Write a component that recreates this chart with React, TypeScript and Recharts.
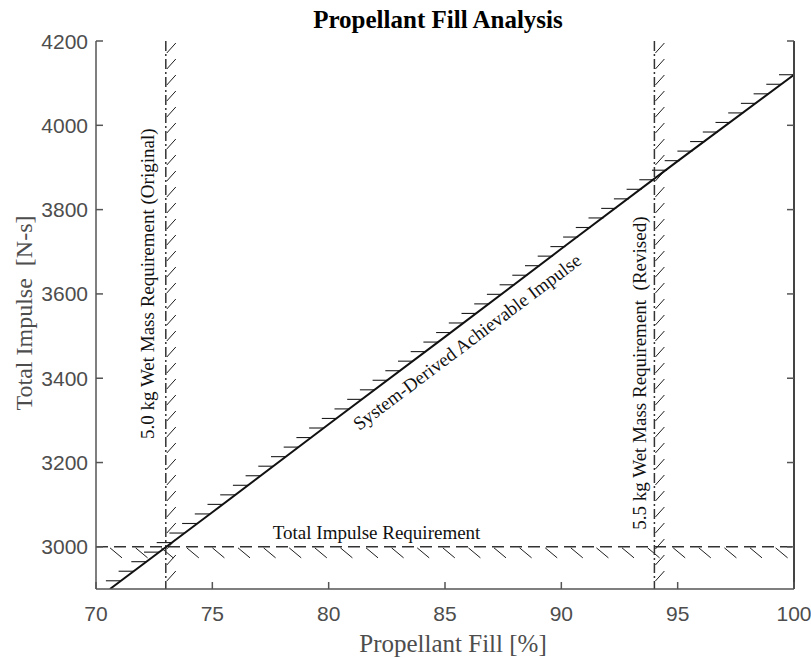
import React from 'react';
import { LineChart, Line, XAxis, YAxis, ReferenceLine, Label } from 'recharts';

// values
const fillPct = [70.6, 75, 80, 85, 90, 95, 100];
const achievableImpulse = [2900, 3082, 3291, 3498, 3707, 3915, 4120];
const xTicks = [70, 75, 80, 85, 90, 95, 100];
const yTicks = [3000, 3200, 3400, 3600, 3800, 4000, 4200];
const xDomain = [70, 100];
const yDomain = [2900, 4200];
const impulseRequirement = 3000;
const fillOriginal = 73;
const fillRevised = 94;

const data = fillPct.map((f, i) => ({ fill: f, impulse: achievableImpulse[i] }));

const AXIS = '#555';
const TICK_TXT = '#4d4d4d';
const INK = '#1e1e1e';
const SERIF = '"Liberation Serif", "Times New Roman", serif';
const SANS = '"Liberation Sans", Arial, sans-serif';

const LeftTick = (p: any) => (
  <g>
    <line x1={p.x + 8} x2={p.x + 15} y1={p.y} y2={p.y} stroke={AXIS} strokeWidth={1.5} />
    <text x={p.x} y={p.y} dy={7.5} textAnchor="end" fontSize={21} fill={TICK_TXT} fontFamily={SANS}>
      {p.payload.value}
    </text>
  </g>
);

const RightTick = (p: any) => (
  <line x1={p.x} x2={p.x - 7} y1={p.y} y2={p.y} stroke={AXIS} strokeWidth={1.5} />
);

const BottomTick = (p: any) => (
  <g>
    <line x1={p.x} x2={p.x} y1={p.y} y2={p.y - 7} stroke={AXIS} strokeWidth={1.5} />
    <text x={p.x} y={p.y + 32} textAnchor="middle" fontSize={21} fill={TICK_TXT} fontFamily={SANS}>
      {p.payload.value}
    </text>
  </g>
);

const TopTick = (p: any) => (
  <line x1={p.x} x2={p.x} y1={p.y} y2={p.y + 7} stroke={AXIS} strokeWidth={1.5} />
);

// vertical dash-dot requirement line with "/" hatches on its right
const vHatch = (text: string, frac: number, off: number) => (p: any) => {
  const x = p.x1;
  const top = Math.min(p.y1, p.y2);
  const bot = Math.max(p.y1, p.y2);
  const marks = [];
  for (let y = top + 12; y <= bot; y += 16) {
    marks.push(<line key={y} x1={x + 1} y1={y} x2={x + 10} y2={y - 10} stroke={INK} strokeWidth={1} />);
  }
  const cy = top + frac * (bot - top);
  return (
    <g>
      <line x1={x} y1={top} x2={x} y2={bot} stroke="#333" strokeWidth={1.5} strokeDasharray="10 3 2 3" />
      {marks}
      <text
        transform={`translate(${x + off},${cy}) rotate(-90)`}
        textAnchor="middle"
        dominantBaseline="central"
        fontSize={19}
        fontFamily={SERIF}
        fill="#111"
        style={{ whiteSpace: 'pre' }}
      >
        {text}
      </text>
    </g>
  );
};

// horizontal dashed requirement line with "\" hatches below
const HHatch = (p: any) => {
  const y = p.y1;
  const left = Math.min(p.x1, p.x2);
  const right = Math.max(p.x1, p.x2);
  const marks = [];
  for (let x = left + 14; x + 12 <= right; x += 25.6) {
    marks.push(<line key={x} x1={x} y1={y + 1} x2={x + 12} y2={y + 11} stroke={INK} strokeWidth={1} />);
  }
  return (
    <g>
      <line x1={left} y1={y} x2={right} y2={y} stroke="#333" strokeWidth={1.5} strokeDasharray="12 6" />
      {marks}
      <text x={left + 0.402 * (right - left)} y={y - 14} textAnchor="middle" dominantBaseline="central" fontSize={19} fontFamily={SERIF} fill="#111">
        Total Impulse Requirement
      </text>
    </g>
  );
};

// hatches along the achievable impulse curve, plus its label
const SlopeHatch = (p: any) => {
  let { x1, y1, x2, y2 } = p;
  if (x1 > x2) [x1, y1, x2, y2] = [x2, y2, x1, y1];
  const dx = x2 - x1;
  const dy = y2 - y1;
  const marks = [];
  for (let x = x2; x >= x1 + 8; x -= 12.7) {
    const y = y1 + (dy * (x - x1)) / dx;
    marks.push(<line key={x} x1={x} y1={y} x2={x - 15} y2={y} stroke={INK} strokeWidth={1.1} />);
  }
  const t = 0.507;
  const cx = x1 + dx * t;
  const cy = y1 + dy * t;
  const ang = (Math.atan2(dy, dx) * 180) / Math.PI;
  return (
    <g>
      {marks}
      <text
        transform={`translate(${cx},${cy}) rotate(${ang})`}
        y={17}
        textAnchor="middle"
        dominantBaseline="central"
        fontSize={19}
        fontFamily={SERIF}
        fill="#111"
      >
        System-Derived Achievable Impulse
      </text>
    </g>
  );
};

const last = fillPct.length - 1;

export default function App() {
  return (
    <div style={{ position: 'absolute', left: 0, top: 0, width: 811, height: 658, background: '#fff' }}>
      <div
        style={{
          position: 'absolute',
          left: 238,
          top: 5,
          width: 400,
          textAlign: 'center',
          fontFamily: SERIF,
          fontWeight: 'bold',
          fontSize: 25,
          lineHeight: '30px',
          color: '#000',
        }}
      >
        Propellant Fill Analysis
      </div>
      <LineChart width={811} height={658} data={data} margin={{ top: 41, right: 7, bottom: 0, left: 0 }}>
        <XAxis
          dataKey="fill"
          type="number"
          domain={xDomain}
          ticks={xTicks}
          allowDataOverflow
          height={69}
          tickSize={0}
          tickMargin={0}
          stroke={AXIS}
          strokeWidth={1.5}
          tick={BottomTick}
          label={
            <Label
              content={(lp: any) => {
                const vb = lp.viewBox;
                return (
                  <text x={vb.x + vb.width / 2 + 8} y={vb.y + 63} textAnchor="middle" fontSize={25} fontFamily={SERIF} fill={TICK_TXT}>
                    Propellant Fill [%]
                  </text>
                );
              }}
            />
          }
        />
        <XAxis
          xAxisId="top"
          orientation="top"
          type="number"
          domain={xDomain}
          ticks={xTicks}
          allowDataOverflow
          height={0}
          tickSize={0}
          tickMargin={0}
          stroke={AXIS}
          strokeWidth={1.5}
          tick={TopTick}
        />
        <YAxis
          type="number"
          domain={yDomain}
          ticks={yTicks}
          allowDataOverflow
          width={96}
          tickSize={0}
          tickMargin={8}
          stroke={AXIS}
          strokeWidth={1.5}
          tick={LeftTick}
          label={
            <Label
              content={(lp: any) => {
                const vb = lp.viewBox;
                const cx = vb.x + 24;
                const cy = vb.y + vb.height / 2 - 2;
                return (
                  <text
                    transform={`translate(${cx},${cy}) rotate(-90)`}
                    textAnchor="middle"
                    dominantBaseline="central"
                    fontSize={24}
                    fontFamily={SERIF}
                    fill={TICK_TXT}
                    style={{ whiteSpace: 'pre' }}
                  >
                    {'Total Impulse  [N-s]'}
                  </text>
                );
              }}
            />
          }
        />
        <YAxis
          yAxisId="right"
          orientation="right"
          type="number"
          domain={yDomain}
          ticks={yTicks}
          allowDataOverflow
          width={10}
          tickSize={0}
          tickMargin={0}
          stroke="#444"
          strokeWidth={2}
          tick={RightTick}
        />
        <ReferenceLine y={impulseRequirement} ifOverflow="visible" shape={HHatch} />
        <ReferenceLine
          x={fillOriginal}
          ifOverflow="visible"
          shape={vHatch('5.0 kg Wet Mass Requirement (Original)', 0.443, -18)}
        />
        <ReferenceLine
          x={fillRevised}
          ifOverflow="visible"
          shape={vHatch('5.5 kg Wet Mass Requirement  (Revised)', 0.606, -15)}
        />
        <ReferenceLine
          segment={[
            { x: fillPct[0], y: achievableImpulse[0] },
            { x: fillPct[last], y: achievableImpulse[last] },
          ]}
          ifOverflow="visible"
          shape={SlopeHatch}
        />
        <Line
          dataKey="impulse"
          type="linear"
          stroke="#111"
          strokeWidth={2}
          dot={false}
          activeDot={false}
          isAnimationActive={false}
        />
      </LineChart>
    </div>
  );
}
